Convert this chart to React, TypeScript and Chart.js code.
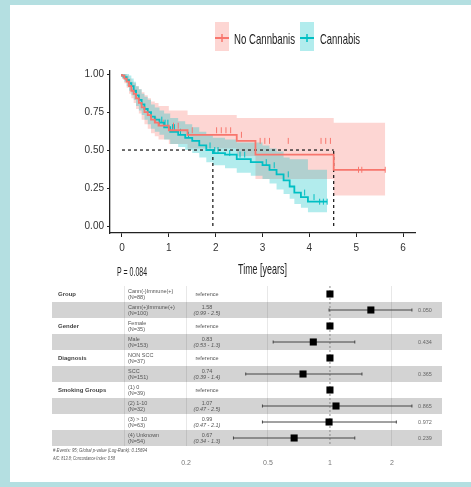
import React, { useEffect, useRef } from "react";
import { Chart, registerables } from "chart.js";

Chart.register(...registerables);

// ---------------- Kaplan–Meier data ----------------
const KM_TICKS_X = [0, 1, 2, 3, 4, 5, 6];
const KM_TICKS_Y = [0, 0.25, 0.5, 0.75, 1];
const LEGEND_LABELS = ["No Cannbanis", "Cannabis"];
const X_TITLE = "Time [years]";
const P_TEXT = "P = 0.084";

const noCannTimes = [0, 0.05, 0.1, 0.15, 0.2, 0.25, 0.3, 0.36, 0.42, 0.48, 0.55, 0.62, 0.7, 0.78, 1.0, 1.4, 2.45, 2.85, 4.52, 4.88, 5.62];
const noCannSurv = [1.0, 0.99, 0.97, 0.95, 0.92, 0.89, 0.87, 0.84, 0.81, 0.78, 0.75, 0.73, 0.7, 0.68, 0.66, 0.63, 0.6, 0.56, 0.47, 0.37, 0.37];
const noCannUpper = [1.0, 1.0, 1.0, 0.99, 0.97, 0.95, 0.94, 0.92, 0.9, 0.88, 0.86, 0.84, 0.82, 0.81, 0.79, 0.76, 0.73, 0.71, 0.71, 0.68, 0.68];
const noCannLower = [1.0, 0.97, 0.94, 0.91, 0.87, 0.84, 0.81, 0.77, 0.74, 0.7, 0.67, 0.64, 0.61, 0.59, 0.57, 0.54, 0.51, 0.46, 0.31, 0.2, 0.2];
const noCannCensor = [0.72, 0.8, 0.88, 1.1, 1.2, 1.5, 2.02, 2.12, 2.22, 2.32, 2.55, 2.95, 3.05, 3.15, 3.55, 4.25, 4.35, 4.45, 5.05, 5.12, 5.62];

const cannTimes = [0, 0.05, 0.1, 0.15, 0.2, 0.25, 0.3, 0.36, 0.42, 0.48, 0.55, 0.62, 0.7, 0.8, 0.9, 1.03, 1.2, 1.35, 1.5, 1.65, 1.8, 1.94, 2.2, 2.45, 2.75, 3.0, 3.15, 3.3, 3.45, 3.58, 3.68, 3.82, 3.97, 4.15, 4.38];
const cannSurv = [1.0, 0.99, 0.98, 0.96, 0.94, 0.92, 0.89, 0.86, 0.83, 0.8, 0.77, 0.75, 0.72, 0.7, 0.68, 0.65, 0.62, 0.6, 0.58, 0.56, 0.53, 0.5, 0.48, 0.47, 0.44, 0.42, 0.4, 0.37, 0.34, 0.3, 0.26, 0.22, 0.19, 0.16, 0.16];
const cannUpper = [1.0, 1.0, 1.0, 1.0, 0.99, 0.97, 0.95, 0.92, 0.9, 0.87, 0.85, 0.83, 0.8, 0.78, 0.76, 0.74, 0.71, 0.69, 0.67, 0.65, 0.62, 0.6, 0.58, 0.57, 0.55, 0.55, 0.53, 0.51, 0.49, 0.45, 0.44, 0.44, 0.44, 0.37, 0.37];
const cannLower = [1.0, 0.97, 0.95, 0.92, 0.89, 0.86, 0.83, 0.79, 0.76, 0.73, 0.7, 0.67, 0.64, 0.62, 0.6, 0.57, 0.54, 0.52, 0.5, 0.48, 0.45, 0.42, 0.4, 0.38, 0.35, 0.33, 0.31, 0.28, 0.24, 0.21, 0.18, 0.145, 0.12, 0.09, 0.09];
const cannCensor = [0.85, 0.92, 0.98, 1.08, 1.12, 1.25, 1.42, 1.88, 1.98, 2.05, 2.3, 2.52, 2.62, 3.08, 3.25, 3.55, 3.9, 4.1, 4.22, 4.3, 4.38];

// ---------------- Forest plot data ----------------
const fpVariables = ["Group", "", "Gender", "", "Diagnosis", "", "Smoking Groups", "", "", ""];
const fpLevels = ["Cann(-)Immune(+)", "Cann(+)Immune(+)", "Female", "Male", "NON SCC", "SCC", "(1) 0", "(2) 1-10", "(3) > 10", "(4) Unknown"];
const fpN = [88, 100, 35, 153, 37, 151, 39, 32, 63, 54];
const fpHR = [1, 1.58, 1, 0.83, 1, 0.74, 1, 1.07, 0.99, 0.67];
const fpLow: (number | null)[] = [null, 0.99, null, 0.53, null, 0.39, null, 0.47, 0.47, 0.34];
const fpHigh: (number | null)[] = [null, 2.5, null, 1.32, null, 1.43, null, 2.5, 2.1, 1.32];
const fpP: (number | null)[] = [null, 0.05, null, 0.434, null, 0.365, null, 0.865, 0.972, 0.239];
const fpTicks = [0.1, 0.2, 0.5, 1, 2];
const fpTickLabels = ["", "0.2", "0.5", "1", "2"];
const fpFooter = ["# Events: 95; Global p-value (Log-Rank): 0.15694", "AIC: 813.8; Concordance Index: 0.58"];

const RED = "#F8766D";
const TEAL = "#00BFC4";
const RED_FILL = "rgba(248,118,109,0.3)";
const TEAL_FILL = "rgba(0,191,196,0.3)";

const pts = (t: number[], v: number[]) => t.map((x, i) => ({ x, y: v[i] }));
const stepAt = (t: number[], v: number[], x: number) => {
  let r = v[0];
  for (let i = 0; i < t.length; i++) if (t[i] <= x) r = v[i];
  return r;
};
const median = (t: number[], v: number[]) => {
  for (let i = 0; i < t.length; i++) if (v[i] <= 0.5) return t[i];
  return t[t.length - 1];
};

function fitText(ctx: CanvasRenderingContext2D, text: string, x: number, y: number, font: string, width: number, color: string) {
  ctx.save();
  ctx.font = font;
  ctx.fillStyle = color;
  ctx.textAlign = "left";
  ctx.textBaseline = "alphabetic";
  const w = ctx.measureText(text).width || 1;
  ctx.translate(x, y);
  ctx.scale(width / w, 1);
  ctx.fillText(text, 0, 0);
  ctx.restore();
}

const kmTextPlugin = {
  id: "kmText",
  afterDraw(chart: any) {
    const ctx: CanvasRenderingContext2D = chart.ctx;
    const keys = [
      { x: 215, c: RED, f: RED_FILL, label: LEGEND_LABELS[0], tx: 234, tw: 61 },
      { x: 300, c: TEAL, f: TEAL_FILL, label: LEGEND_LABELS[1], tx: 320, tw: 40 },
    ];
    keys.forEach((k) => {
      ctx.save();
      ctx.fillStyle = k.f;
      ctx.fillRect(k.x, 22, 14, 29);
      ctx.strokeStyle = k.c;
      ctx.lineWidth = 2;
      ctx.beginPath();
      ctx.moveTo(k.x, 38);
      ctx.lineTo(k.x + 14, 38);
      ctx.stroke();
      ctx.lineWidth = 1.5;
      ctx.beginPath();
      ctx.moveTo(k.x + 7, 34);
      ctx.lineTo(k.x + 7, 42);
      ctx.stroke();
      ctx.restore();
      fitText(ctx, k.label, k.tx, 44, "15px 'Liberation Sans', sans-serif", k.tw, "#222");
    });
    fitText(ctx, X_TITLE, 238, 274, "15px 'Liberation Sans', sans-serif", 49, "#222");
    fitText(ctx, P_TEXT, 117, 276, "12px 'Liberation Sans', sans-serif", 30, "#222");
  },
};

const fpPlugin = {
  id: "fpTable",
  beforeDraw(chart: any) {
    const ctx: CanvasRenderingContext2D = chart.ctx;
    const a = chart.chartArea;
    const ys = chart.scales.y;
    ctx.save();
    ctx.fillStyle = "#d3d3d3";
    fpLevels.forEach((_, i) => {
      if (i % 2 === 1) {
        const t = ys.getPixelForValue(i - 0.5);
        const b = ys.getPixelForValue(i + 0.5);
        ctx.fillRect(a.left, t, a.right - a.left, b - t);
      }
    });
    ctx.restore();
  },
  afterDraw(chart: any) {
    const ctx: CanvasRenderingContext2D = chart.ctx;
    const ys = chart.scales.y;
    ctx.save();
    ctx.textBaseline = "middle";
    fpLevels.forEach((lev, i) => {
      const y = ys.getPixelForValue(i);
      if (fpVariables[i]) {
        ctx.font = "bold 6px 'Liberation Sans', sans-serif";
        ctx.fillStyle = "#444";
        ctx.textAlign = "left";
        ctx.fillText(fpVariables[i], 58, y);
      }
      ctx.font = "5.5px 'Liberation Sans', sans-serif";
      ctx.fillStyle = "#555";
      ctx.textAlign = "left";
      ctx.fillText(lev, 128, y - 3);
      ctx.fillText(`(N=${fpN[i]})`, 128, y + 3);
      ctx.textAlign = "center";
      const lo = fpLow[i];
      const hi = fpHigh[i];
      if (lo == null || hi == null) {
        ctx.fillText("reference", 207, y);
      } else {
        ctx.fillText(fpHR[i].toFixed(2), 207, y - 3);
        ctx.font = "italic 5.5px 'Liberation Sans', sans-serif";
        ctx.fillText(`(${lo.toPrecision(2)} - ${hi.toPrecision(2)})`, 207, y + 3);
      }
      const p = fpP[i];
      if (p != null) {
        ctx.font = "5.5px 'Liberation Sans', sans-serif";
        ctx.fillStyle = "#666";
        ctx.fillText(p.toFixed(3), 425, y);
      }
    });
    ctx.restore();
    fitText(ctx, fpFooter[0], 53, 172, "italic 6px 'Liberation Sans', sans-serif", 94, "#555");
    fitText(ctx, fpFooter[1], 53, 180, "italic 6px 'Liberation Sans', sans-serif", 62, "#555");
  },
};

export default function App() {
  const kmRef = useRef<HTMLCanvasElement>(null);
  const fpRef = useRef<HTMLCanvasElement>(null);

  useEffect(() => {
    document.body.style.margin = "0";
    const tealMed = median(cannTimes, cannSurv);
    const redMed = median(noCannTimes, noCannSurv);
    const dash = { borderColor: "#111", borderWidth: 1.2, borderDash: [3, 3], pointRadius: 0, fill: false };
    const band = { borderWidth: 0, pointRadius: 0, stepped: "after" as const };
    const km = new Chart(kmRef.current!, {
      type: "line",
      data: {
        datasets: [
          { data: pts(noCannTimes, noCannSurv), borderColor: RED, borderWidth: 1.8, stepped: "after", pointRadius: 0, fill: false },
          { data: pts(cannTimes, cannSurv), borderColor: TEAL, borderWidth: 1.8, stepped: "after", pointRadius: 0, fill: false },
          { data: noCannCensor.map((x) => ({ x, y: stepAt(noCannTimes, noCannSurv, x) })), showLine: false, pointStyle: "line", pointRotation: 90, pointRadius: 3, borderColor: RED, borderWidth: 1 },
          { data: cannCensor.map((x) => ({ x, y: stepAt(cannTimes, cannSurv, x) })), showLine: false, pointStyle: "line", pointRotation: 90, pointRadius: 3, borderColor: TEAL, borderWidth: 1 },
          { data: [{ x: 0, y: 0.5 }, { x: redMed, y: 0.5 }], ...dash },
          { data: [{ x: tealMed, y: 0 }, { x: tealMed, y: 0.5 }], ...dash },
          { data: [{ x: redMed, y: 0 }, { x: redMed, y: 0.5 }], ...dash },
          { data: pts(cannTimes, cannUpper), ...band, fill: "+1", backgroundColor: TEAL_FILL },
          { data: pts(cannTimes, cannLower), ...band, fill: false },
          { data: pts(noCannTimes, noCannUpper), ...band, fill: "+1", backgroundColor: RED_FILL },
          { data: pts(noCannTimes, noCannLower), ...band, fill: false },
        ] as any,
      },
      options: {
        animation: false,
        responsive: false,
        devicePixelRatio: 1,
        layout: { padding: { left: 70, right: 56, top: 71, bottom: 0 } },
        plugins: { legend: { display: false }, tooltip: { enabled: false } },
        scales: {
          x: {
            type: "linear",
            min: -0.256,
            max: 6.256,
            afterBuildTicks: (s: any) => { s.ticks = KM_TICKS_X.map((v) => ({ value: v })); },
            afterFit: (s: any) => { s.height = 47; },
            grid: { display: true, drawOnChartArea: false, drawTicks: true, tickLength: 4, tickColor: "#222", tickWidth: 1 },
            border: { display: true, color: "#222", width: 1.3 },
            ticks: { font: { family: "'Liberation Sans Narrow', 'Liberation Sans', sans-serif", size: 10 }, color: "#333", padding: 5, maxRotation: 0, autoSkip: false, callback: (v: any) => String(v) },
          },
          y: {
            type: "linear",
            min: -0.046,
            max: 1.02,
            afterBuildTicks: (s: any) => { s.ticks = KM_TICKS_Y.map((v) => ({ value: v })); },
            afterFit: (s: any) => { s.width = 40; },
            grid: { display: true, drawOnChartArea: false, drawTicks: true, tickLength: 3, tickColor: "#222", tickWidth: 1 },
            border: { display: true, color: "#222", width: 1.3 },
            ticks: { font: { family: "'Liberation Sans Narrow', 'Liberation Sans', sans-serif", size: 10 }, color: "#333", padding: 3, autoSkip: false, callback: (v: any) => Number(v).toFixed(2) },
          },
        },
      } as any,
      plugins: [kmTextPlugin],
    });

    const ciSets = fpLevels
      .map((_, i) => ({ i, lo: fpLow[i], hi: fpHigh[i] }))
      .filter((r) => r.lo != null && r.hi != null)
      .map((r) => ({
        type: "line",
        data: [{ x: r.lo, y: r.i }, { x: r.hi, y: r.i }],
        borderColor: "#444",
        borderWidth: 1,
        showLine: true,
        pointStyle: "line",
        pointRotation: 90,
        pointRadius: 1.5,
        pointBorderColor: "#444",
        pointBorderWidth: 1,
      }));

    const fp = new Chart(fpRef.current!, {
      type: "scatter",
      data: {
        datasets: [
          { data: fpHR.map((v, i) => ({ x: v, y: i })), pointStyle: "rect", pointRadius: 5, backgroundColor: "#000", borderColor: "#000", borderWidth: 0 },
          ...ciSets,
          { type: "line", data: [{ x: 1, y: -0.5 }, { x: 1, y: 9.5 }], borderColor: "#8a8a8a", borderWidth: 1, borderDash: [2, 2], pointRadius: 0, showLine: true },
        ] as any,
      },
      options: {
        animation: false,
        responsive: false,
        devicePixelRatio: 1,
        layout: { padding: { left: 52, right: 29, top: 6, bottom: 0 } },
        plugins: { legend: { display: false }, tooltip: { enabled: false } },
        scales: {
          x: {
            type: "logarithmic",
            min: 0.0447,
            max: 3.5,
            afterBuildTicks: (s: any) => { s.ticks = fpTicks.map((v) => ({ value: v })); },
            afterFit: (s: any) => { s.height = 41; },
            grid: {
              display: true,
              drawOnChartArea: true,
              drawTicks: false,
              color: (c: any) => (c.tick && c.tick.value === 1 ? "rgba(0,0,0,0)" : "rgba(0,0,0,0.09)"),
              lineWidth: 1,
            },
            border: { display: false },
            ticks: {
              padding: 13,
              font: { family: "'Liberation Sans', sans-serif", size: 7 },
              color: "#777",
              autoSkip: false,
              maxRotation: 0,
              callback: (v: any) => {
                const k = fpTicks.indexOf(Number(v));
                return k >= 0 ? fpTickLabels[k] : "";
              },
            },
          },
          y: { type: "linear", min: -0.5, max: 9.5, reverse: true, display: false },
        },
      } as any,
      plugins: [fpPlugin],
    });

    return () => {
      km.destroy();
      fp.destroy();
    };
  }, []);

  return (
    <div style={{ position: "relative", width: 471, height: 487, background: "#b4dfe1", overflow: "hidden" }}>
      <div style={{ position: "absolute", left: 10, top: 5, width: 461, height: 477, background: "#fff" }} />
      <canvas ref={kmRef} width={471} height={280} style={{ position: "absolute", left: 0, top: 0, width: 471, height: 280 }} />
      <canvas ref={fpRef} width={471} height={207} style={{ position: "absolute", left: 0, top: 280, width: 471, height: 207 }} />
    </div>
  );
}
